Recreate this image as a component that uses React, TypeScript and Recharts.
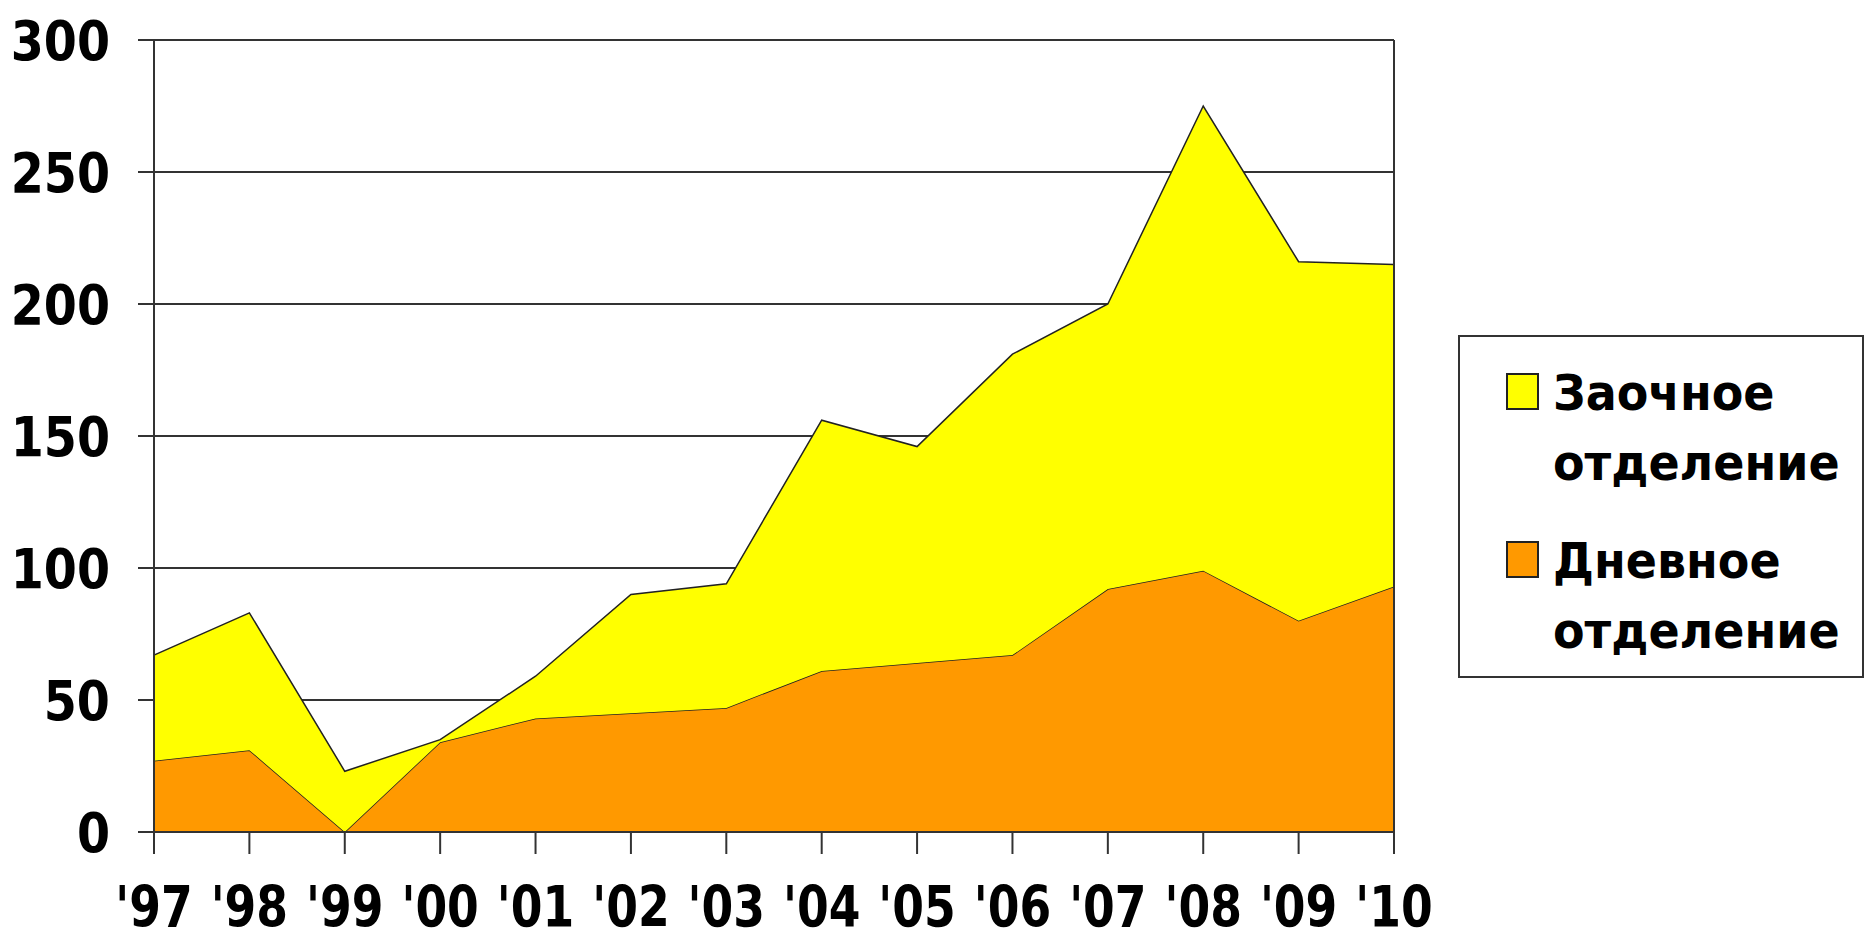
import React from "react";
import {
  AreaChart,
  Area,
  XAxis,
  YAxis,
  CartesianGrid,
  Legend,
  ReferenceLine,
} from "recharts";

// years on the category axis
const years = ["'97", "'98", "'99", "'00", "'01", "'02", "'03", "'04", "'05", "'06", "'07", "'08", "'09", "'10"];
// Дневное отделение (bottom, orange)
const dnevnoe = [27, 31, 0, 34, 43, 45, 47, 61, 64, 67, 92, 99, 80, 93];
// Заочное отделение (stacked on top, yellow)
const zaochnoe = [40, 52, 23, 1, 16, 45, 47, 95, 82, 114, 108, 176, 136, 122];
const yTicks = [0, 50, 100, 150, 200, 250, 300];

const legendItems = [
  { name: "Заочное", line2: "отделение", color: "#FFFF00" },
  { name: "Дневное", line2: "отделение", color: "#FF9900" },
];

const FONT = "'DejaVu Sans', Verdana, sans-serif";

const data = years.map((y, i) => ({
  year: y,
  dnevnoe: dnevnoe[i],
  zaochnoe: zaochnoe[i],
}));

function YTick({ x, y, payload }: any) {
  return (
    <text
      x={x}
      y={y}
      dy={20}
      textAnchor="end"
      fontFamily={FONT}
      fontWeight="bold"
      fontSize={56}
      fill="#000"
      transform={`translate(${x} ${y}) scale(0.85 1) translate(${-x} ${-y})`}
    >
      {payload.value}
    </text>
  );
}

function XTick({ x, y, payload }: any) {
  return (
    <text
      x={x}
      y={y}
      dy={73}
      textAnchor="middle"
      fontFamily={FONT}
      fontWeight="bold"
      fontSize={57}
      fill="#000"
      transform={`translate(${x} ${y}) scale(0.8 1) translate(${-x} ${-y})`}
    >
      {payload.value}
    </text>
  );
}

function LegendBox() {
  return (
    <div
      style={{
        boxSizing: "border-box",
        width: 406,
        height: 343,
        border: "2px solid #333",
        background: "#fff",
        paddingTop: 21,
        fontFamily: FONT,
        fontWeight: "bold",
        fontSize: 50,
        lineHeight: "70px",
        color: "#000",
      }}
    >
      {legendItems.map((it, i) => (
        <div key={it.name} style={{ position: "relative", marginTop: i === 0 ? 0 : 28 }}>
          <div
            style={{
              position: "absolute",
              left: 46,
              top: 15,
              width: 33,
              height: 37,
              boxSizing: "border-box",
              background: it.color,
              border: "2px solid #222",
            }}
          />
          <div
            style={{
              marginLeft: 93,
              transform: "scaleX(0.92)",
              transformOrigin: "left",
              whiteSpace: "nowrap",
            }}
          >
            <div>{it.name}</div>
            <div>{it.line2}</div>
          </div>
        </div>
      ))}
    </div>
  );
}

export default function App() {
  return (
    <div
      style={{
        position: "absolute",
        left: 0,
        top: 0,
        width: 1866,
        height: 944,
        background: "#fff",
      }}
    >
      <AreaChart
        width={1866}
        height={944}
        data={data}
        margin={{ top: 40, right: 472, bottom: 0, left: 0 }}
      >
        <CartesianGrid vertical={false} stroke="#333" strokeWidth={2} />
        <XAxis
          dataKey="year"
          height={112}
          tickSize={22}
          tickMargin={0}
          axisLine={{ stroke: "#333", strokeWidth: 2 }}
          tickLine={{ stroke: "#333", strokeWidth: 2 }}
          tick={<XTick />}
          interval={0}
        />
        <YAxis
          width={154}
          domain={[0, 300]}
          ticks={yTicks}
          tickSize={16}
          tickMargin={28}
          axisLine={{ stroke: "#333", strokeWidth: 2 }}
          tickLine={{ stroke: "#333", strokeWidth: 2 }}
          tick={<YTick />}
          interval={0}
        />
        <Area
          type="linear"
          dataKey="dnevnoe"
          stackId="1"
          stroke="#222"
          strokeWidth={1.5}
          fill="#FF9900"
          fillOpacity={1}
          isAnimationActive={false}
        />
        <Area
          type="linear"
          dataKey="zaochnoe"
          stackId="1"
          stroke="#222"
          strokeWidth={1.5}
          fill="#FFFF00"
          fillOpacity={1}
          isAnimationActive={false}
        />
        <ReferenceLine x="'10" stroke="#333" strokeWidth={2} />
        <Legend
          layout="vertical"
          align="center"
          verticalAlign="middle"
          content={<LegendBox />}
          wrapperStyle={{ left: 1458, top: 335, width: 406, height: 343 }}
        />
      </AreaChart>
    </div>
  );
}
